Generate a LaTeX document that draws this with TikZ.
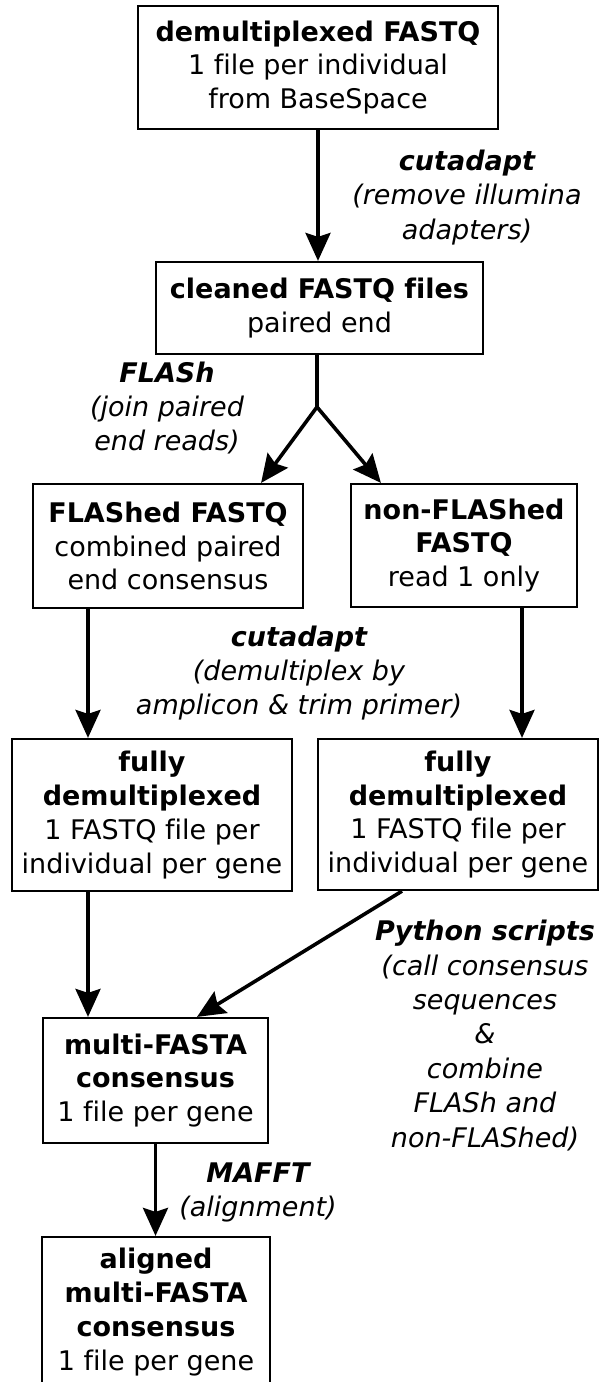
\documentclass[tikz,border=0pt]{standalone}
\usepackage{fontspec}
\setmainfont[Ligatures=NoCommon]{DejaVu Sans}
\usepackage{tikz}
\usetikzlibrary{arrows.meta, calc}

\tikzset{
  filebox/.style={draw, line width=2.2pt, align=center, inner sep=0pt,
    font=\fontsize{27}{33.8}\selectfont},
  toollabel/.style={align=center, inner sep=0pt,
    font=\fontsize{27}{34.4}\selectfont\itshape},
  flow/.style={-{Stealth[length=28pt, width=25pt, inset=4pt]}, line width=3.6pt},
}

\begin{document}
\begin{tikzpicture}[x=1pt, y=-1pt]
  \useasboundingbox (0,0) rectangle (600,1382);

  % Dateien
  \node[filebox, minimum width=360pt, minimum height=123pt] (demux) at (318, 67.5)
    {\textbf{demultiplexed FASTQ}\\1 file per individual\\from BaseSpace};
  \node[filebox, minimum width=327pt, minimum height=92pt] (cleaned) at (319.5, 308)
    {\textbf{cleaned FASTQ files}\\paired end};
  \node[filebox, minimum width=270pt, minimum height=124pt] (flashed) at (168, 546)
    {\textbf{FLAShed FASTQ}\\combined paired\\end consensus};
  \node[filebox, minimum width=226pt, minimum height=123pt] (nonflashed) at (464, 545.5)
    {\textbf{non-FLAShed}\\\textbf{FASTQ}\\read 1 only};
  \node[filebox, minimum width=280pt, minimum height=152pt] (fullyA) at (152, 815)
    {\textbf{fully}\\\textbf{demultiplexed}\\1 FASTQ file per\\individual per gene};
  \node[filebox, minimum width=280pt, minimum height=151pt] (fullyB) at (458, 814.5)
    {\textbf{fully}\\\textbf{demultiplexed}\\1 FASTQ file per\\individual per gene};
  \node[filebox, minimum width=225pt, minimum height=125pt] (multi) at (155.5, 1080.5)
    {\textbf{multi-FASTA}\\\textbf{consensus}\\1 file per gene};
  \node[filebox, minimum width=228pt, minimum height=150pt] (aligned) at (156, 1312)
    {\textbf{aligned}\\\textbf{multi-FASTA}\\\textbf{consensus}\\1 file per gene};

  % Werkzeuge
  \node[toollabel] (cutadaptA) at (467, 197.5)
    {\textbf{cutadapt}\\(remove illumina\\adapters)};
  \node[toollabel] (flash) at (167, 408)
    {\textbf{FLASh}\\(join paired\\end reads)};
  \node[toollabel] (cutadaptB) at (299, 673)
    {\textbf{cutadapt}\\(demultiplex by\\amplicon \& trim primer)};
  \node[toollabel] (python) at (485, 1035.5)
    {\textbf{Python scripts}\\(call consensus\\sequences\\\&\\combine\\FLASh and\\non-FLAShed)};
  \node[toollabel] (mafft) at (258, 1192.5)
    {\textbf{MAFFT}\\(alignment)};

  % Pfeile
  \draw[flow] (demux.south) -- (demux.south |- cleaned.north);
  \coordinate (fork) at (317, 407);
  \draw[line width=3.6pt] (cleaned.south -| fork) -- (fork);
  \draw[flow] (fork) -- ([xshift=-43pt]flashed.north east);
  \draw[flow] (fork) -- ([xshift=31pt]nonflashed.north west);
  \draw[flow] ([xshift=-80pt]flashed.south) -- ([xshift=-80pt]flashed.south |- fullyA.north);
  \draw[flow] ([xshift=58pt]nonflashed.south) -- ([xshift=58pt]nonflashed.south |- fullyB.north);
  \draw[flow] ([xshift=-64pt]fullyA.south) -- ([xshift=-64pt]fullyA.south |- multi.north);
  \draw[flow] ([xshift=-56pt]fullyB.south) -- ([xshift=41.5pt]multi.north);
  \draw[flow] (multi.south) -- (multi.south |- aligned.north);
\end{tikzpicture}
\end{document}
